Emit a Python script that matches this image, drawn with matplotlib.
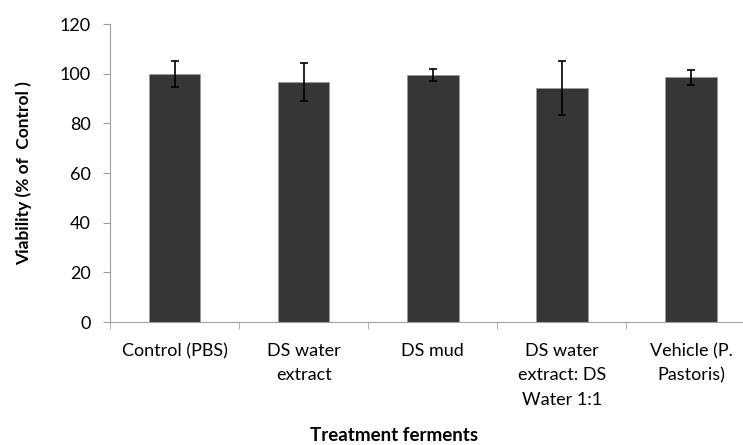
import matplotlib.pyplot as plt
import numpy as np

plt.rcParams['font.family'] = ['Lato', 'DejaVu Sans']

categories = ["Control (PBS)", "DS water\nextract", "DS mud",
              "DS water\nextract: DS\nWater 1:1", "Vehicle (P.\nPastoris)"]
viability = [100, 96.7, 99.4, 94.2, 98.6]
errors = [5.2, 7.7, 2.4, 11.0, 3.0]

fig = plt.figure(figsize=(7.43, 4.45), dpi=100)
ax = fig.add_axes([0.148, 0.2764, 0.869, 0.6696])

x = np.arange(len(categories))
ax.bar(x, viability, width=0.4, color="#363636", edgecolor="#9a9a9a", linewidth=0.6,
       yerr=errors, error_kw=dict(ecolor="black", elinewidth=1.2, capsize=3, capthick=1.2))

ax.set_xlim(-0.5, len(categories) - 0.5)
ax.set_ylim(0, 120)
ax.set_yticks(range(0, 121, 20))
ax.tick_params(axis="y", labelsize=13, direction="out", length=5, pad=9, color="#a0a0a0")

ax.set_xticks(x)
ax.set_xticklabels(categories, fontsize=13, linespacing=1.65, va="top")
ax.set_xticks(np.arange(len(categories) + 1) - 0.5, minor=True)
ax.tick_params(axis="x", which="major", length=0, pad=15)
ax.tick_params(axis="x", which="minor", direction="out", length=5, color="#a0a0a0")

for side in ["top", "right"]:
    ax.spines[side].set_visible(False)
for side in ["left", "bottom"]:
    ax.spines[side].set_color("#a0a0a0")

ax.set_ylabel("Viability (% of  Control )", fontsize=12.5, fontweight="bold", labelpad=20)
fig.text(0.53, 0.008, "Treatment ferments", fontsize=13.5, fontweight="bold",
         ha="center", va="baseline")

fig.savefig("out.png", dpi=100)
